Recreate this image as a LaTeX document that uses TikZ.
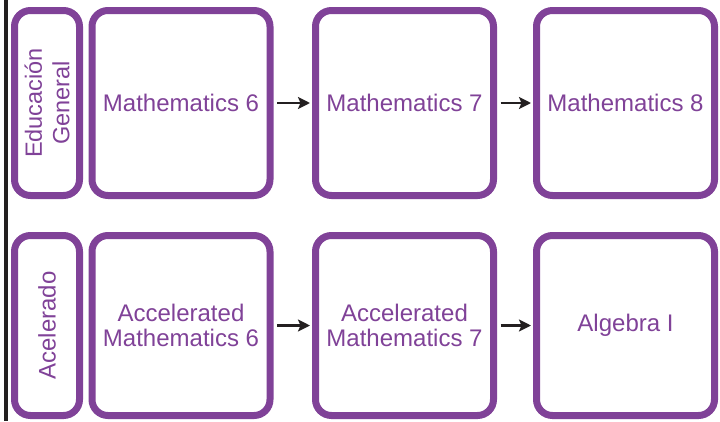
\documentclass[tikz,border=0pt]{standalone}
\usepackage{fontspec}
\setmainfont{Liberation Sans}
\usetikzlibrary{arrows.meta}
\definecolor{purpleC}{RGB}{128,66,152}
\definecolor{darkC}{RGB}{35,31,32}
\begin{document}
\begin{tikzpicture}[x=1pt,y=-1pt,
  box/.style={draw=purpleC, line width=7pt, rounded corners=16pt, fill=white,
    text=purpleC, align=center, inner sep=0pt,
    font=\fontsize{24}{25.5}\selectfont},
  topbox/.style={box, minimum width=178pt, minimum height=185pt},
  botbox/.style={box, minimum width=178pt, minimum height=180pt},
  sidetop/.style={box, rotate=90, minimum width=185pt, minimum height=65pt,
    font=\fontsize{23.5}{27.5}\selectfont},
  sidebot/.style={box, rotate=90, minimum width=180pt, minimum height=65pt},
  conn/.style={draw=darkC, line width=2.6pt,
    -{Stealth[length=12pt,width=12pt,inset=2.5pt]},
    shorten <=3.5pt, shorten >=2pt}
]
\useasboundingbox (0,0) rectangle (720,421);
\fill[darkC] (3.5,0) rectangle (7.5,421);

\node[sidetop] (sg) at (47,103) {Educación\\General};
\node[topbox] (m6) at (181,103) {Mathematics 6};
\node[topbox] (m7) at (404.5,103) {Mathematics 7};
\node[topbox] (m8) at (625.5,103) {Mathematics 8};

\node[sidebot] (sa) at (47,325.5) {Acelerado};
\node[botbox] (a6) at (181,325.5) {Accelerated\\Mathematics 6};
\node[botbox] (a7) at (404.5,325.5) {Accelerated\\Mathematics 7};
\node[botbox] (al) at (625.5,325.5) {Algebra I};

\draw[conn] (m6) -- (m7);
\draw[conn] (m7) -- (m8);
\draw[conn] (a6) -- (a7);
\draw[conn] (a7) -- (al);
\end{tikzpicture}
\end{document}
